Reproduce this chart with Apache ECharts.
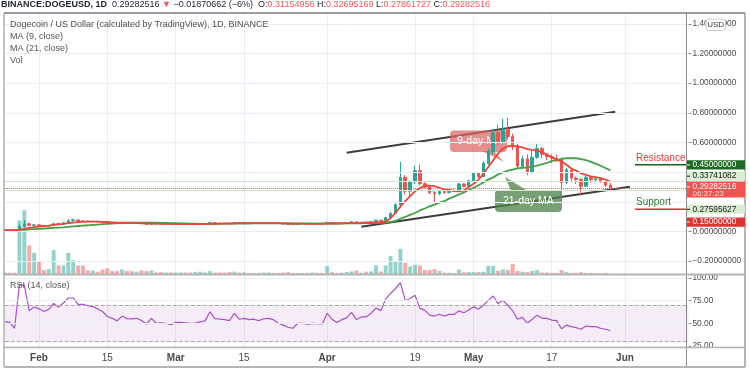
<!DOCTYPE html>
<html><head><meta charset="utf-8">
<script src="https://cdn.jsdelivr.net/npm/echarts@6/dist/echarts.min.js"></script>
<style>html,body{margin:0;padding:0;background:#fff}#c{width:750px;height:375px}</style>
</head><body><div id="c"></div>
<script>
// ---------- categories (daily, 2021-01-25 .. 2021-06-14) ----------
const dates = [];
(function(){ const d0 = Date.UTC(2021,0,25); for (let i=0;i<141;i++){ dates.push(new Date(d0+i*86400000).toISOString().slice(0,10)); } })();

const timeTickDates  = ['2021-02-01','2021-02-15','2021-03-01','2021-03-15','2021-04-01','2021-04-19','2021-05-01','2021-05-17','2021-06-01'];
const timeTickLabels = ['Feb','15','Mar','15','Apr','19','May','17','Jun'];
const priceGridValues = [1.4,1.2,1.0,0.8,0.6,0.4,0.2,0,-0.2];
const priceTickLabels = [1.4,1.2,1.0,0.8,0.6,0,-0.2];
const rsiTicks = [100,75,50,25];
const rsiBand = [30,70];

// ---------- OHLC ----------
const opens = [.0086,.0088,.0086,.0076,.0345,.0520,.0420,.0450,.0380,.0365,.0400,.0530,.0480,.0590,.0720,.0780,.0700,.0695,.0680,.0690,
.0660,.0620,.0570,.0555,.0530,.0580,.0560,.0555,.0565,.0540,.0480,.0540,.0505,.0500,.0502,.0490,.0510,.0512,.0505,.0495,
.0500,.0510,.0520,.0600,.0565,.0555,.0552,.0545,.0610,.0565,.0575,.0565,.0570,.0560,.0575,.0578,.0565,.0535,.0515,.0495,
.0485,.0530,.0532,.0525,.0532,.0530,.0525,.0615,.0575,.0555,.0580,.0600,.0660,.0595,.0625,.0620,.0660,.0760,.0720,.0940,
.1210,.1810,.3650,.2720,.3350,.4100,.3220,.3000,.2620,.2550,.2700,.2620,.2720,.2750,.3200,.3050,.3430,.3940,.3700,.4600,
.5400,.6650,.6050,.6900,.6400,.5700,.4400,.4900,.4000,.5000,.5600,.5200,.5050,.4950,.4850,.3300,.4150,.3600,.3500,.3050,
.3650,.3500,.3560,.3350,.31154956];
const closes = [.0088,.0086,.0076,.0345,.0520,.0420,.0450,.0380,.0365,.0400,.0530,.0480,.0590,.0720,.0780,.0700,.0695,.0680,.0690,.0660,
.0620,.0570,.0555,.0530,.0580,.0560,.0555,.0565,.0540,.0480,.0540,.0505,.0500,.0502,.0490,.0510,.0512,.0505,.0495,.0500,
.0510,.0520,.0600,.0565,.0555,.0552,.0545,.0610,.0565,.0575,.0565,.0570,.0560,.0575,.0578,.0565,.0535,.0515,.0495,.0485,
.0530,.0532,.0525,.0532,.0530,.0525,.0615,.0575,.0555,.0580,.0600,.0660,.0595,.0625,.0620,.0660,.0760,.0720,.0940,.1210,
.1810,.3650,.2720,.3350,.4100,.3220,.3000,.2620,.2550,.2700,.2620,.2720,.2750,.3200,.3050,.3430,.3940,.3700,.4600,.5400,
.6650,.6050,.6900,.6400,.5700,.4400,.4900,.4000,.5000,.5600,.5200,.5050,.4950,.4850,.3300,.4150,.3600,.3500,.3050,.3650,
.3500,.3560,.3350,.31153178,.29282516];
const lows = [.0083,.0082,.0073,.0075,.0290,.0360,.0360,.0340,.0340,.0350,.0390,.0440,.0460,.0560,.0680,.0640,.0660,.0640,.0640,.0640,
.0600,.0540,.0530,.0510,.0520,.0540,.0540,.0540,.0520,.0460,.0470,.0490,.0490,.0490,.0480,.0485,.0500,.0495,.0485,.0485,
.0495,.0505,.0515,.0550,.0545,.0540,.0535,.0540,.0555,.0555,.0555,.0555,.0550,.0555,.0565,.0550,.0525,.0500,.0480,.0470,
.0480,.0520,.0515,.0518,.0520,.0515,.0520,.0560,.0545,.0545,.0570,.0595,.0580,.0585,.0610,.0615,.0650,.0690,.0710,.0900,
.1180,.1700,.2500,.2350,.3200,.3150,.2900,.2500,.1950,.2450,.2550,.2580,.2650,.2700,.2980,.3000,.3400,.3600,.3650,.4500,
.5200,.5800,.5950,.6200,.5500,.4200,.4200,.3800,.3900,.4900,.4950,.4800,.4600,.4700,.2050,.3200,.3400,.3200,.2500,.3000,
.3300,.3400,.3300,.3000,.27861727];
const highs = [.0091,.0092,.0088,.0480,.0780,.0600,.0500,.0470,.0400,.0420,.0580,.0560,.0620,.0830,.0870,.0800,.0780,.0740,.0730,.0700,
.0680,.0640,.0590,.0570,.0600,.0600,.0580,.0580,.0580,.0550,.0560,.0550,.0520,.0515,.0510,.0520,.0525,.0520,.0515,.0510,
.0520,.0535,.0640,.0610,.0580,.0570,.0565,.0640,.0620,.0590,.0585,.0580,.0580,.0590,.0590,.0585,.0570,.0545,.0520,.0505,
.0540,.0545,.0540,.0545,.0540,.0540,.0640,.0620,.0585,.0590,.0615,.0680,.0670,.0640,.0640,.0675,.0800,.0790,.1000,.1300,
.1900,.4700,.3800,.3450,.4450,.4500,.3350,.3100,.2720,.2800,.2780,.2800,.2850,.3300,.3250,.3500,.4000,.4000,.4750,.5600,
.6900,.7200,.7600,.7650,.6600,.5900,.5100,.5200,.5500,.5900,.5700,.5300,.5200,.5150,.5000,.4300,.4200,.3700,.3600,.3750,
.3720,.3680,.3620,.3420,.32695169];
// volume (billion DOGE, estimated)
const volumes = [0.9,0.9,0.9,27,32.2,14.5,10.8,6.3,2.2,2.7,12.2,4.5,4.5,10.8,7.2,4.5,4.5,2.0,2.0,1.4,
2.5,3.0,1.7,1.7,2.5,1.7,1.7,1.4,2.0,1.7,2.0,1.0,1.2,1.0,1.0,1.0,1.0,1.0,1.0,1.2,
1.4,1.0,1.7,1.0,1.0,1.0,1.2,1.4,1.0,1.0,0.8,0.8,0.8,1.0,1.0,0.8,0.8,1.0,1.2,0.8,
0.7,0.8,0.8,1.0,0.8,0.8,4.2,1.2,0.8,0.9,1.2,1.5,2.0,0.9,1.4,1.5,4.5,1.5,4.5,9.2,
6.3,12.8,5.8,4.0,4.8,4.5,2.2,2.2,2.7,1.8,1.0,0.9,0.7,2.5,1.2,1.2,1.3,1.2,1.4,4.3,
4.3,1.8,2.5,2.3,5.3,1.8,1.4,1.2,1.8,2.2,1.0,1.0,0.8,0.8,2.2,1.2,0.8,0.8,1.2,0.8,
0.8,0.7,0.5,0.8,0.4];
const ma9 = [.0086,.0086,.0085,.0115,.018,.024,.029,.033,.037,.040,.045,.049,.052,.056,.060,.063,.065,.066,.066,.066,
.065,.064,.062,.060,.059,.058,.057,.056,.055,.054,.054,.053,.052,.051,.051,.050,.050,.050,.050,.050,
.050,.051,.052,.052,.053,.053,.054,.055,.056,.056,.056,.057,.057,.057,.057,.056,.056,.055,.054,.053,
.053,.053,.052,.052,.052,.052,.053,.054,.054,.055,.056,.057,.057,.058,.059,.060,.062,.064,.068,.090,
.125,.168,.205,.238,.270,.293,.308,.310,.306,.295,.283,.280,.272,.270,.276,.300,.322,.350,.390,.435,
.480,.525,.560,.575,.578,.575,.568,.556,.550,.545,.535,.518,.500,.485,.472,.450,.425,.410,.392,.382,
.372,.366,.360,.350,.337];
const ma21 = [.0085,.0086,.0086,.010,.012,.014,.016,.018,.020,.022,.024,.026,.028,.031,.034,.037,.040,.042,.045,.047,
.050,.052,.054,.056,.058,.059,.060,.060,.060,.060,.060,.059,.058,.058,.057,.056,.055,.054,.053,.053,
.052,.052,.052,.052,.052,.053,.053,.053,.054,.054,.054,.055,.055,.055,.055,.055,.055,.055,.055,.054,
.054,.054,.054,.054,.054,.054,.054,.054,.054,.054,.055,.055,.055,.055,.056,.056,.057,.058,.060,.064,
.072,.086,.098,.112,.125,.142,.155,.170,.181,.195,.205,.222,.235,.250,.263,.280,.295,.312,.330,.350,
.365,.385,.398,.410,.418,.425,.430,.433,.436,.445,.452,.462,.475,.482,.490,.494,.495,.494,.488,.482,
.470,.458,.443,.428,.412];
const rsi = [51.8,51,44.5,93,92,64,68,66,63,65.5,72,68,72.5,78,78,71,71,69.5,68.5,66,
63,57.5,55.5,52.7,58,55,54.8,55.5,53,49.2,55.5,50,50.4,50,48.5,51,51,50.5,50,50.3,
51.5,52.7,62.7,55.5,54.5,54,53,61,54.5,55.5,54,54.5,53,55,55.5,54,50,48,45.6,44.5,
50,50,49,50,49.7,49.2,61,54.5,51,54,56,62,54,57,57,61,67,64,77,83,
88.5,95,75,77.4,81,66.5,64.6,59,58,60,58,59.8,59.8,63.8,61.6,64.6,68.2,65.6,70,75.4,
80.2,71.8,75.4,70,63.8,54.4,56.6,50,54.4,59,55.5,55.5,53.6,53,43.8,48,46.3,45.2,43.4,47,
46.3,46.3,44.5,43.4,42];

// drawn channel (trend lines): [categoryDate, price]
const channelUpper = [['2021-04-05',0.531],['2021-05-30',0.808]];
const channelLower = [['2021-04-08',0.032],['2021-06-02',0.302]];
// horizontal levels
const resistanceLevel = 0.45, supportLevel = 0.15;
const lastPrice = closes[closes.length-1];
const greenLevels = [0.33741082, 0.27595627];
const sideLabels = [0.45, 0.33741082, 0.29282516, 0.27595627, 0.15];
const countdown = '06:37:23';

// ---------- helpers ----------
const fmt8 = v => (v<0?'\u2212':'') + Math.abs(v).toFixed(8);
const idxOf = d => dates.indexOf(d);
const tickIdx = new Set(timeTickDates.map(idxOf));
const tickText = {}; timeTickDates.forEach((d,i)=>tickText[d]=timeTickLabels[i]);

const UP='#26a69a', DN='#ef5350';
const GRIDC='#e7eef6';
const FONT="'Liberation Sans', Arial, sans-serif";
const NARROW="'Liberation Sans Narrow', 'Liberation Sans', Arial, sans-serif";
const AXFS = 8.3;

const P_A=231.5, P_B=148.3; // layout calibration px
const G_TOP=13, G_MAIN_H=261.5, G_RSI_TOP=274.5, G_RSI_H=73;
const G_LEFT=4.82, G_W=683.66;
const PMIN=(P_A-(G_TOP+G_MAIN_H))/P_B, PMAX=(P_A-G_TOP)/P_B;

const ohlc = opens.map((o,i)=>[o, closes[i], lows[i], highs[i]]);
const volData = volumes.map((v,i)=>({value:v, itemStyle:{color: closes[i]>=opens[i]?'rgba(38,166,154,0.5)':'rgba(239,83,80,0.5)'}}));
const chIdx = arr => arr.map(p=>[idxOf(p[0]), p[1]]);

const hLine = (v, color, type, width) => ({yAxis:v, lineStyle:{color, type:type||'solid', width:width||1}});

const xBase = {
  type:'category', data:dates, boundaryGap:false,
  axisLine:{show:false}, axisTick:{show:false},
  splitLine:{show:true, interval:(i)=>tickIdx.has(i), lineStyle:{color:GRIDC, width:1}}
};

const option = {
  animation:false,
  backgroundColor:'#fff',
  grid:[
    {left:G_LEFT, top:G_TOP, width:G_W, height:G_MAIN_H},
    {left:G_LEFT, top:G_RSI_TOP, width:G_W, height:G_RSI_H}
  ],
  xAxis:[
    Object.assign({}, xBase, {gridIndex:0, axisLabel:{show:false}}),
    Object.assign({}, xBase, {gridIndex:1, axisLabel:{
      show:true, interval:(i)=>tickIdx.has(i), margin:6, fontSize:10, color:'#4a4a4a', fontFamily:FONT,
      formatter:(v)=>{ const t=tickText[v]||''; return /^[A-Z]/.test(t)?'{m|'+t+'}':t; },
      rich:{m:{fontWeight:'bold', fontSize:10, color:'#4a4a4a', fontFamily:FONT}}
    }})
  ],
  yAxis:[
    {gridIndex:0, type:'value', position:'right', min:PMIN, max:PMAX, splitLine:{show:false},
     axisLine:{show:false},
     axisTick:{show:true, customValues:priceTickLabels, length:3, lineStyle:{color:'#888'}},
     axisLabel:{customValues:priceTickLabels, formatter:fmt8, color:'#4a4a4a', fontSize:AXFS, fontFamily:NARROW, margin:4}},
    {gridIndex:0, type:'value', min:0, max:G_MAIN_H/2, show:false, splitLine:{show:false}},
    {gridIndex:1, type:'value', position:'right', min:23.2, max:104, splitLine:{show:false},
     axisLine:{show:false},
     axisTick:{show:true, customValues:rsiTicks, length:3, lineStyle:{color:'#888'}},
     axisLabel:{customValues:rsiTicks, formatter:v=>v.toFixed(2), color:'#4a4a4a', fontSize:AXFS, fontFamily:NARROW, margin:4}}
  ],
  series:[
    {type:'line', xAxisIndex:0, yAxisIndex:0, data:[], z:0, silent:true,
     markLine:{silent:true, symbol:'none', label:{show:false}, animation:false,
       data: priceGridValues.map(v=>hLine(v, GRIDC))
         .concat(greenLevels.map(v=>hLine(v,'#cfe8cb')))
         .concat([hLine(lastPrice,'#ef5350','dotted',1)])}},
    {type:'line', xAxisIndex:1, yAxisIndex:2, data:[], z:0, silent:true,
     markLine:{silent:true, symbol:'none', label:{show:false}, animation:false,
       data: rsiTicks.map(v=>hLine(v, GRIDC))}},
    {name:'Vol', type:'bar', xAxisIndex:0, yAxisIndex:1, data:volData, barWidth:'80%', z:1, silent:true},
    {name:'upper', type:'line', xAxisIndex:0, yAxisIndex:0, data:chIdx(channelUpper), symbol:'none', z:1,
     lineStyle:{color:'#3d3d3d', width:2}},
    {name:'lower', type:'line', xAxisIndex:0, yAxisIndex:0, data:chIdx(channelLower), symbol:'none', z:1,
     lineStyle:{color:'#3d3d3d', width:2}},
    {name:'DOGEUSD', type:'candlestick', xAxisIndex:0, yAxisIndex:0, data:ohlc, barWidth:'62%', z:3,
     itemStyle:{color:UP, color0:DN, borderColor:UP, borderColor0:DN, borderWidth:1}},
    {name:'MA (21, close)', type:'line', xAxisIndex:0, yAxisIndex:0, data:ma21, symbol:'none', z:4,
     lineStyle:{color:'#43a047', width:1.8}},
    {name:'MA (9, close)', type:'line', xAxisIndex:0, yAxisIndex:0, data:ma9, symbol:'none', z:4,
     lineStyle:{color:'#f44336', width:1.8}},
    {name:'RSI (14, close)', type:'line', xAxisIndex:1, yAxisIndex:2, data:rsi, symbol:'none', z:4,
     lineStyle:{color:'#ab4fc8', width:1.2},
     markArea:{silent:true, itemStyle:{color:'rgba(156,39,176,0.09)'}, data:[[{yAxis:rsiBand[0]},{yAxis:rsiBand[1]}]]},
     markLine:{silent:true, symbol:'none', label:{show:false}, data:rsiBand.map(v=>hLine(v,'#a8a8a8','dashed',1))}}
  ]
};

const chart = echarts.init(document.getElementById('c'));
chart.setOption(option);

// ---------- annotations / labels ----------
const py = v => chart.convertToPixel({yAxisIndex:0}, v);
const O = opens[opens.length-1], H = highs[highs.length-1], L = lows[lows.length-1];
const prev = closes[closes.length-2];
const chg = lastPrice - prev, pct = Math.round(chg/prev*100);

const g = [];
const line = (x1,y1,x2,y2,stroke,w,z)=>g.push({type:'line', z:z||100, silent:true, shape:{x1,y1,x2,y2}, style:{stroke, lineWidth:w}});
const text = (x,y,t,opt)=>g.push({type:'text', z:100, silent:true, x, y, style:Object.assign({text:t, fontFamily:FONT, fontSize:9, fill:'#555', verticalAlign:'middle'}, opt||{})});

// header
g.push({type:'text', z:100, x:1, y:4.5, style:{
  text:`{b|BINANCE:DOGEUSD, 1D}  {d|${fmt8(lastPrice)}} {r|\u25BC} {d|${fmt8(chg)} (${pct<0?'\u2212':''}${Math.abs(pct)}%)}  {d|O:}{r|${fmt8(O)}} {d|H:}{r|${fmt8(H)}} {d|L:}{r|${fmt8(L)}} {d|C:}{r|${fmt8(lastPrice)}}`,
  verticalAlign:'middle', fontFamily:FONT, fontSize:9,
  rich:{b:{fontWeight:'bold', fill:'#1e222d', fontSize:9, fontFamily:FONT}, d:{fill:'#1e222d', fontSize:9, fontFamily:FONT}, r:{fill:'#f05a5a', fontSize:9, fontFamily:FONT}}
}});
// legends
text(10,25,'Dogecoin / US Dollar (calculated by TradingView), 1D, BINANCE',{fill:'#4f4f4f'});
text(10,37,'MA (9, close)');
text(10,49,'MA (21, close)');
text(10,61,'Vol');
text(10,286,'RSI (14, close)');

// callouts
g.push({type:'polygon', z:2.5, silent:true, shape:{points:[[482,151],[494,151],[504,162]]}, style:{fill:'rgba(222,98,98,0.72)'}});
g.push({type:'rect', z:2.5, silent:true, shape:{x:450,y:130.5,width:57,height:21.5,r:4}, style:{fill:'rgba(222,98,98,0.72)'}});
g.push({type:'text', z:2.6, silent:true, x:457, y:141.5, style:{text:'9-day MA', fill:'#fff', fontSize:10.5, fontFamily:FONT, verticalAlign:'middle'}});
g.push({type:'polygon', z:2.5, silent:true, shape:{points:[[505,177],[511,190.5],[527,190.5]]}, style:{fill:'rgba(74,128,74,0.75)'}});
g.push({type:'rect', z:2.5, silent:true, shape:{x:495,y:190,width:67,height:22,r:4}, style:{fill:'rgba(74,128,74,0.75)'}});
g.push({type:'text', z:2.6, silent:true, x:503, y:201, style:{text:'21-day MA', fill:'#fff', fontSize:10.5, fontFamily:FONT, verticalAlign:'middle'}});

// resistance / support rays
const yR = py(resistanceLevel), yS = py(supportLevel);
line(635, yR, 686.5, yR, '#1b5e20', 1.5, 50);
text(636, yR-6.3, 'Resistance', {fill:'#e53935', fontSize:10});
line(635, yS, 686.5, yS, '#d32f2f', 1.5, 50);
text(636, yS-6.8, 'Support', {fill:'#2e7d32', fontSize:10});

// frame
line(4,13,745,13,'#9c9c9c',2);
line(4,13,4,367,'#9c9c9c',1.2);
line(745,13,745,367,'#9c9c9c',1.5);
line(4,367,745,367,'#9c9c9c',1.5);
line(686.5,13,686.5,367,'#8c8c8c',1);
line(4,274.5,745,274.5,'#b4b4b4',2);
line(4,347.5,745,347.5,'#b4b4b4',1.5);

// USD badge
g.push({type:'rect', z:110, silent:true, shape:{x:706,y:19,width:19.5,height:11.5,r:3}, style:{fill:'#fff', stroke:'#cfcfcf', lineWidth:1}});
g.push({type:'text', z:111, silent:true, x:715.7, y:25, style:{text:'USD', fill:'#333', fontSize:8, fontFamily:FONT, align:'center', verticalAlign:'middle'}});

// right-side price labels (stacked as in the reference)
const boxStyles = [
  {y:160.2, h:9.4, bg:'#1e6b27', fg:'#ffffff'},
  {y:171.6, h:9.2, bg:'#d7eed3', fg:'#1a1a1a'},
  {y:181.6, h:16, bg:'#f05350', fg:'#ffffff'},
  {y:204.8, h:9, bg:'#d7eed3', fg:'#1a1a1a'},
  {y:217.4, h:9.4, bg:'#dd3333', fg:'#ffffff'}
];
sideLabels.forEach((v,i)=>{
  const b = boxStyles[i];
  const cy = b.y + (i===2?5.2:b.h/2);
  g.push({type:'rect', z:110, silent:true, shape:{x:687,y:b.y,width:58,height:b.h}, style:{fill:b.bg}});
  line(687,cy,690,cy, b.fg, 1, 111);
  g.push({type:'text', z:111, silent:true, x:692.5, y:cy, style:{text:fmt8(v), fill:b.fg, fontSize:AXFS, fontFamily:NARROW, verticalAlign:'middle'}});
  if (i===2) g.push({type:'text', z:111, silent:true, x:692.5, y:b.y+12, style:{text:countdown, fill:'#ffe0e0', fontSize:8, fontFamily:NARROW, verticalAlign:'middle'}});
});

chart.setOption({graphic:{elements:g}});
</script>
</body></html>
